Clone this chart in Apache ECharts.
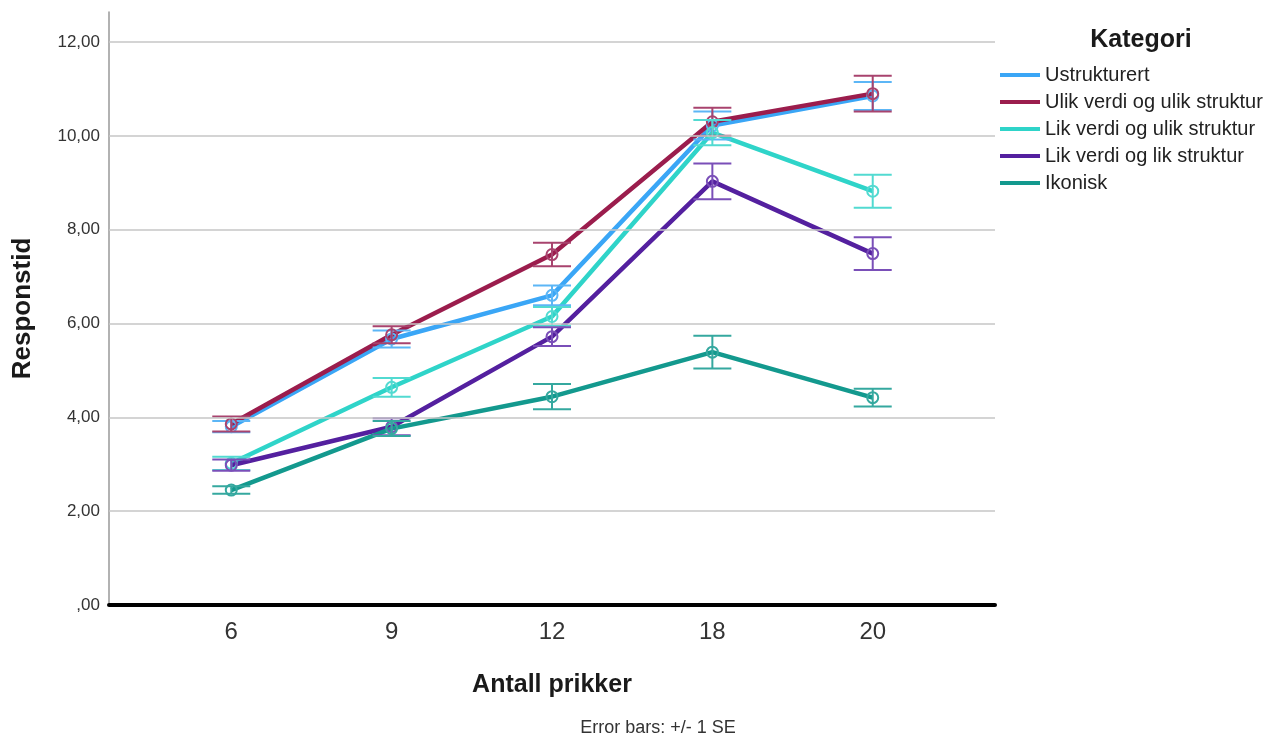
<!DOCTYPE html>
<html>
<head>
<meta charset="utf-8">
<script src="https://cdn.jsdelivr.net/npm/echarts@6/dist/echarts.min.js"></script>
<style>
  html, body { margin: 0; padding: 0; background: #fff; }
  #chart { width: 1284px; height: 740px; }
</style>
</head>
<body>
<div id="chart"></div>
<script>
const categories = ['6', '9', '12', '18', '20'];
const yTicks = [0, 2, 4, 6, 8, 10, 12];
const seriesNames = ['Ustrukturert', 'Ulik verdi og ulik struktur', 'Lik verdi og ulik struktur', 'Lik verdi og lik struktur', 'Ikonisk'];

// means and standard errors per category
const ustrukturert = [3.80, 5.67, 6.60, 10.22, 10.85];
const ustrukturertSE = [0.12, 0.18, 0.21, 0.30, 0.30];
const ulikUlik = [3.86, 5.76, 7.47, 10.30, 10.90];
const ulikUlikSE = [0.16, 0.18, 0.25, 0.30, 0.38];
const likUlik = [3.02, 4.64, 6.15, 10.07, 8.82];
const likUlikSE = [0.14, 0.20, 0.20, 0.27, 0.35];
const likLik = [2.98, 3.80, 5.72, 9.03, 7.49];
const likLikSE = [0.12, 0.18, 0.20, 0.38, 0.35];
const ikonisk = [2.45, 3.76, 4.44, 5.39, 4.42];
const ikoniskSE = [0.08, 0.16, 0.27, 0.35, 0.19];

const means = [ustrukturert, ulikUlik, likUlik, likLik, ikonisk];
const errors = [ustrukturertSE, ulikUlikSE, likUlikSE, likLikSE, ikoniskSE];

const lineColors = ['#3aa6f6', '#9b1d4d', '#2fd4c9', '#54209f', '#13998e'];
const barColors = ['#5cb6f6', '#a8436e', '#52dad1', '#7a4fb8', '#35a89f'];

const FONT = '"Liberation Sans", Arial, sans-serif';

function renderErrorBar(params, api) {
  const x = api.value(0), m = api.value(1), s = api.value(2);
  const top = api.coord([x, m + s]);
  const bot = api.coord([x, m - s]);
  const mid = api.coord([x, m]);
  const color = api.visual('color');
  const style = { stroke: color, lineWidth: 2, fill: 'none' };
  const cap = 19;
  return {
    type: 'group',
    children: [
      { type: 'line', shape: { x1: top[0], y1: top[1], x2: bot[0], y2: bot[1] }, style },
      { type: 'line', shape: { x1: top[0] - cap, y1: top[1], x2: top[0] + cap, y2: top[1] }, style },
      { type: 'line', shape: { x1: bot[0] - cap, y1: bot[1], x2: bot[0] + cap, y2: bot[1] }, style },
      { type: 'circle', shape: { cx: mid[0], cy: mid[1], r: 5.5 }, style }
    ]
  };
}

const series = [];

// gridlines drawn through the y scale
series.push({
  name: 'grid',
  type: 'line',
  data: ustrukturert.map((v, i) => [i, v]),
  symbol: 'none',
  lineStyle: { opacity: 0 },
  silent: true,
  z: 1,
  markLine: {
    silent: true,
    symbol: ['none', 'none'],
    label: { show: false },
    lineStyle: { color: '#c6c6c6', type: 'solid', width: 1.5 },
    data: yTicks.filter((v) => v > 0).map((v) => ({ yAxis: v }))
  }
});

seriesNames.forEach((name, k) => {
  series.push({
    name,
    type: 'line',
    data: means[k].map((v, i) => [i, v]),
    symbol: 'none',
    z: 3,
    color: lineColors[k],
    lineStyle: { width: 4.5, color: lineColors[k] }
  });
});

seriesNames.forEach((name, k) => {
  series.push({
    name,
    type: 'custom',
    renderItem: renderErrorBar,
    itemStyle: { color: barColors[k] },
    encode: { x: 0, y: 1 },
    data: means[k].map((v, i) => [i, v, errors[k][i]]),
    z: 4
  });
});

const chart = echarts.init(document.getElementById('chart'));
chart.setOption({
  backgroundColor: '#fff',
  animation: false,
  textStyle: { fontFamily: FONT },
  title: [
    {
      text: 'Kategori',
      left: 1136,
      textAlign: 'center',
      top: 23,
      textStyle: { fontFamily: FONT, fontSize: 25, fontWeight: 'bold', color: '#1a1a1a' }
    },
    {
      text: 'Error bars: +/- 1 SE',
      left: 658,
      textAlign: 'center',
      top: 719,
      padding: 0,
      textStyle: { fontFamily: FONT, fontSize: 18, fontWeight: 'normal', color: '#333' }
    }
  ],
  legend: {
    data: seriesNames,
    orient: 'vertical',
    left: 995,
    top: 60,
    icon: 'rect',
    itemWidth: 40,
    itemHeight: 4,
    itemGap: 7,
    textStyle: { fontFamily: FONT, fontSize: 20, color: '#222' }
  },
  grid: { left: 109, right: 289, top: 12, bottom: 135 },
  xAxis: {
    type: 'value',
    min: -0.7625,
    max: 4.7625,
    name: 'Antall prikker',
    nameLocation: 'middle',
    nameGap: 68,
    nameTextStyle: { fontFamily: FONT, fontSize: 25, fontWeight: 'bold', color: '#1a1a1a' },
    axisLine: { lineStyle: { color: '#000', width: 4 } },
    axisTick: { show: false },
    splitLine: { show: false },
    axisLabel: {
      customValues: [0, 1, 2, 3, 4],
      formatter: (v) => categories[Math.round(v)],
      margin: 15,
      fontFamily: FONT,
      fontSize: 24,
      color: '#333'
    }
  },
  yAxis: {
    type: 'value',
    min: 0,
    max: 12.64,
    name: 'Responstid',
    nameLocation: 'middle',
    nameGap: 73,
    nameTextStyle: { fontFamily: FONT, fontSize: 26, fontWeight: 'bold', color: '#1a1a1a' },
    axisLine: { show: true, onZero: false, lineStyle: { color: '#999', width: 1.5 } },
    axisTick: { show: false },
    splitLine: { show: false },
    axisLabel: {
      customValues: yTicks,
      formatter: (v) => (v === 0 ? ',00' : v.toFixed(2).replace('.', ',')),
      margin: 9,
      fontFamily: FONT,
      fontSize: 17,
      color: '#333'
    }
  },
  series
});
</script>
</body>
</html>
